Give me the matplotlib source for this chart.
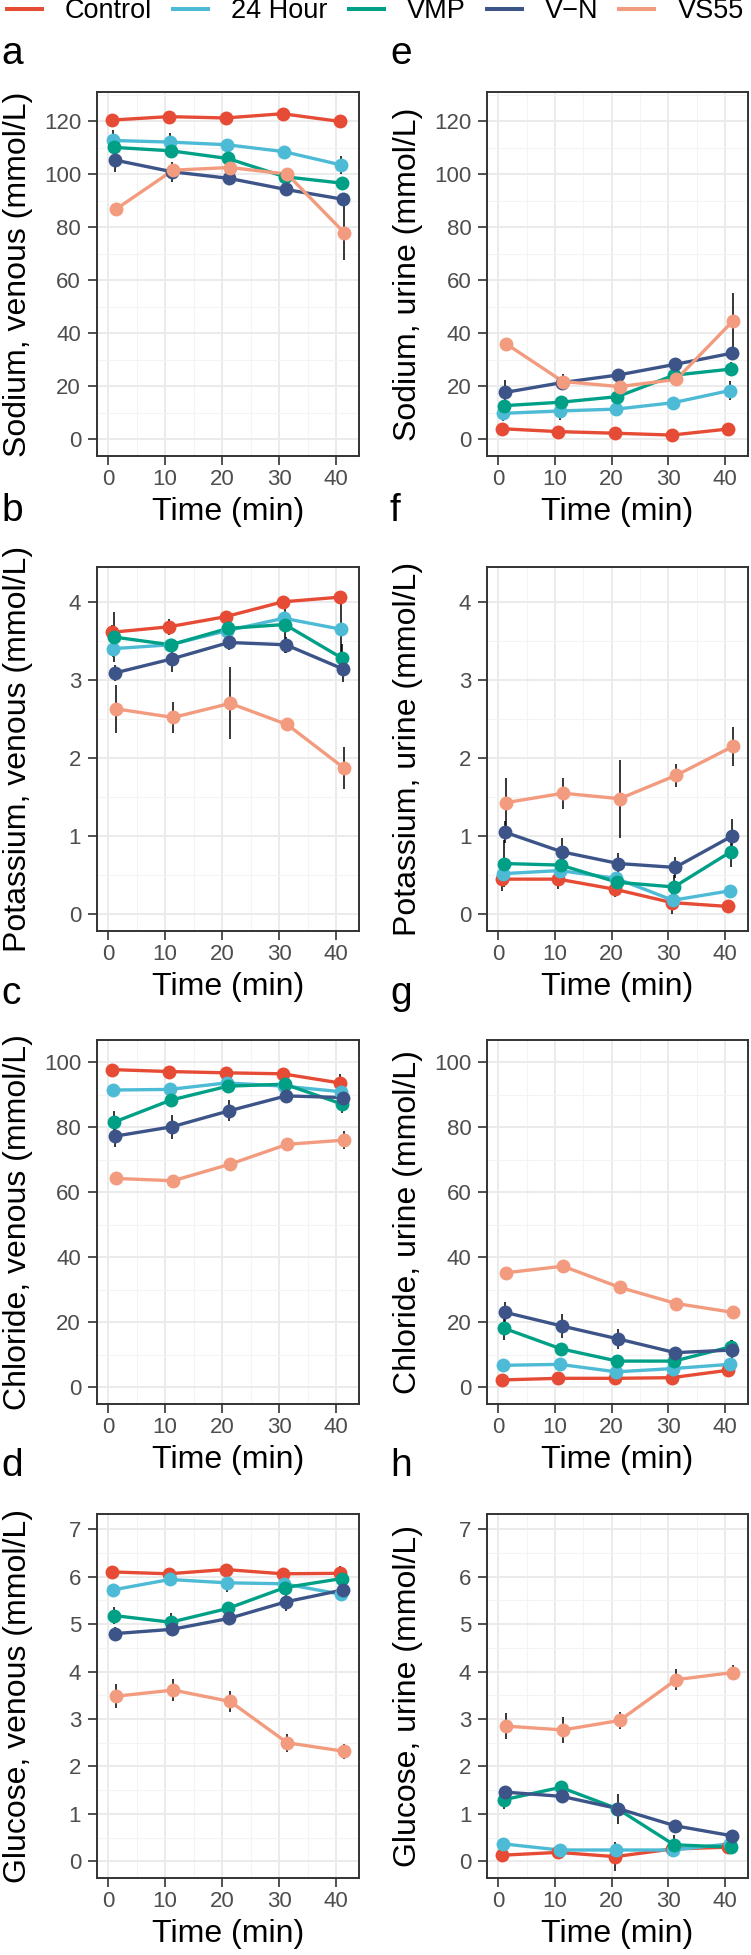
import numpy as np
import matplotlib
matplotlib.use('Agg')
import matplotlib.pyplot as plt
from matplotlib.lines import Line2D
from matplotlib.ticker import MultipleLocator

plt.rcParams['font.family'] = ['Liberation Sans', 'DejaVu Sans']

# ── data (mean and SE per group, rows = groups, cols = time points) ──────────
groups = ['Control', '24 Hour', 'VMP', 'V\u2212N', 'VS55']
colors = ['#E64B35', '#4DBBD5', '#00A087', '#3C5488', '#F39B7F']
time_min = [1, 11, 21, 31, 41]

sodium_venous = [[120.5, 121.8, 121.3, 122.9, 120.0],
                 [112.8, 112.2, 111.2, 108.6, 103.6],
                 [110.2, 108.9, 106.0, 99.1, 96.7],
                 [105.4, 101.0, 98.5, 94.3, 90.6],
                 [86.9, 101.6, 102.6, 100.1, 78.0]]
sodium_venous_se = [[1.0, 1.5, 1.0, 1.0, 1.0],
                    [4.0, 3.3, 1.5, 1.5, 3.5],
                    [1.5, 2.5, 1.5, 1.5, 2.0],
                    [4.5, 3.8, 1.5, 1.5, 2.0],
                    [1.5, 2.0, 1.5, 1.5, 10.3]]

sodium_urine = [[4.0, 2.9, 2.3, 1.6, 3.9],
                [9.8, 10.7, 11.4, 13.8, 18.4],
                [12.7, 14.0, 16.1, 24.2, 26.5],
                [17.7, 21.4, 24.3, 28.3, 32.5],
                [36.0, 21.8, 19.9, 22.6, 44.7]]
sodium_urine_se = [[0.8, 0.5, 0.5, 0.5, 0.8],
                   [3.0, 3.4, 1.0, 1.0, 3.6],
                   [1.5, 2.0, 1.5, 2.0, 2.5],
                   [4.7, 2.0, 1.5, 1.5, 2.5],
                   [1.0, 3.0, 1.0, 1.5, 10.4]]

potassium_venous = [[3.61, 3.68, 3.81, 4.00, 4.06],
                    [3.40, 3.45, 3.63, 3.79, 3.65],
                    [3.55, 3.45, 3.66, 3.71, 3.28],
                    [3.09, 3.27, 3.48, 3.45, 3.14],
                    [2.63, 2.52, 2.70, 2.43, 1.87]]
potassium_venous_se = [[0.10, 0.10, 0.05, 0.08, 0.05],
                       [0.10, 0.05, 0.05, 0.05, 0.40],
                       [0.32, 0.05, 0.05, 0.37, 0.18],
                       [0.10, 0.17, 0.10, 0.10, 0.17],
                       [0.31, 0.20, 0.46, 0.05, 0.27]]

potassium_urine = [[0.45, 0.45, 0.32, 0.15, 0.10],
                   [0.52, 0.56, 0.46, 0.18, 0.30],
                   [0.65, 0.63, 0.41, 0.35, 0.80],
                   [1.05, 0.80, 0.65, 0.60, 1.00],
                   [1.43, 1.55, 1.48, 1.78, 2.15]]
potassium_urine_se = [[0.15, 0.12, 0.10, 0.14, 0.03],
                      [0.10, 0.05, 0.05, 0.05, 0.05],
                      [0.30, 0.10, 0.10, 0.15, 0.20],
                      [0.14, 0.18, 0.14, 0.13, 0.22],
                      [0.32, 0.20, 0.50, 0.15, 0.25]]

chloride_venous = [[97.7, 97.1, 96.7, 96.4, 93.6],
                   [91.4, 91.6, 93.6, 92.6, 90.9],
                   [81.5, 88.3, 92.6, 93.2, 87.1],
                   [77.2, 80.1, 85.0, 89.6, 89.1],
                   [64.2, 63.5, 68.6, 74.7, 76.0]]
chloride_venous_se = [[0.5, 0.5, 0.5, 0.5, 2.7],
                      [0.5, 0.5, 0.5, 0.5, 1.0],
                      [3.4, 1.0, 1.0, 1.0, 2.9],
                      [3.2, 3.7, 3.2, 1.5, 1.0],
                      [0.5, 0.5, 0.5, 0.5, 2.7]]

chloride_urine = [[2.2, 2.7, 2.7, 2.9, 5.2],
                  [6.7, 7.0, 4.7, 5.7, 7.0],
                  [18.1, 11.8, 8.0, 8.0, 12.4],
                  [23.0, 18.8, 14.8, 10.6, 11.4],
                  [35.2, 37.2, 30.7, 25.7, 23.0]]
chloride_urine_se = [[0.5, 0.5, 0.5, 0.5, 1.0],
                     [0.5, 0.5, 0.5, 0.5, 0.5],
                     [3.6, 1.0, 1.0, 1.0, 2.0],
                     [3.3, 3.8, 3.1, 1.5, 3.0],
                     [0.5, 0.5, 1.0, 1.8, 0.5]]

glucose_venous = [[6.10, 6.06, 6.15, 6.06, 6.07],
                  [5.72, 5.94, 5.87, 5.85, 5.63],
                  [5.18, 5.04, 5.33, 5.77, 5.96],
                  [4.80, 4.89, 5.12, 5.47, 5.72],
                  [3.48, 3.61, 3.37, 2.50, 2.32]]
glucose_venous_se = [[0.05, 0.05, 0.05, 0.05, 0.15],
                     [0.05, 0.05, 0.19, 0.05, 0.05],
                     [0.18, 0.20, 0.05, 0.05, 0.05],
                     [0.14, 0.10, 0.05, 0.19, 0.05],
                     [0.25, 0.23, 0.22, 0.19, 0.16]]

glucose_urine = [[0.13, 0.19, 0.10, 0.26, 0.30],
                 [0.37, 0.24, 0.24, 0.24, 0.37],
                 [1.30, 1.56, 1.11, 0.35, 0.30],
                 [1.46, 1.37, 1.11, 0.75, 0.54],
                 [2.85, 2.77, 2.97, 3.83, 3.98]]
glucose_urine_se = [[0.05, 0.05, 0.30, 0.05, 0.05],
                    [0.05, 0.05, 0.05, 0.05, 0.05],
                    [0.20, 0.10, 0.10, 0.20, 0.05],
                    [0.10, 0.10, 0.32, 0.05, 0.05],
                    [0.28, 0.27, 0.18, 0.22, 0.16]]

# ── layout (pixels) ───────────────────────────────────────────────────────────
W, H = 751, 1955
fig = plt.figure(figsize=(W / 100, H / 100), dpi=100)

col_left = [97, 487.3]
col_width = [262, 260.4]
row_top = [92, 566.7, 1040, 1514]
ax_h = 364
letter_base = [64, 521, 1004, 1476]
letter_x = [1, 390]

panels = [
    ('a', 'Sodium, venous (mmol/L)', sodium_venous, sodium_venous_se, (-6.3, 131.1), 20, 0, 0),
    ('b', 'Potassium, venous (mmol/L)', potassium_venous, potassium_venous_se, (-0.21, 4.45), 1, 0, 1),
    ('c', 'Chloride, venous (mmol/L)', chloride_venous, chloride_venous_se, (-5.2, 106.8), 20, 0, 2),
    ('d', 'Glucose, venous (mmol/L)', glucose_venous, glucose_venous_se, (-0.35, 7.32), 1, 0, 3),
    ('e', 'Sodium, urine (mmol/L)', sodium_urine, sodium_urine_se, (-6.3, 131.1), 20, 1, 0),
    ('f', 'Potassium, urine (mmol/L)', potassium_urine, potassium_urine_se, (-0.21, 4.45), 1, 1, 1),
    ('g', 'Chloride, urine (mmol/L)', chloride_urine, chloride_urine_se, (-5.2, 106.8), 20, 1, 2),
    ('h', 'Glucose, urine (mmol/L)', glucose_urine, glucose_urine_se, (-0.35, 7.32), 1, 1, 3),
]

offsets = np.linspace(-0.4, 0.4, len(groups))

for letter, ylabel, mean, se, ylim, step, col, row in panels:
    rect = [col_left[col] / W, 1 - (row_top[row] + ax_h) / H, col_width[col] / W, ax_h / H]
    ax = fig.add_axes(rect)
    mean = np.array(mean)
    se = np.array(se)
    t = np.array(time_min, dtype=float)
    for i, g in enumerate(groups):
        x = t + offsets[i]
        ax.vlines(x, mean[i] - se[i], mean[i] + se[i], color='black', lw=1.1, zorder=2)
    for i, g in enumerate(groups):
        x = t + offsets[i]
        ax.plot(x, mean[i], color=colors[i], lw=2.4, zorder=3)
        ax.plot(x, mean[i], 'o', color=colors[i], ms=10, mec='none', zorder=4)

    ax.set_xlim(-1.95, 44.0)
    ax.set_ylim(*ylim)
    ax.xaxis.set_major_locator(MultipleLocator(10))
    ax.xaxis.set_minor_locator(MultipleLocator(5))
    ax.yaxis.set_major_locator(MultipleLocator(step))
    ax.yaxis.set_minor_locator(MultipleLocator(step / 2))
    ax.grid(which='major', color='#EBEBEB', lw=1.4, zorder=0)
    ax.grid(which='minor', color='#F4F4F4', lw=0.8, zorder=0)
    ax.set_axisbelow(True)
    ax.tick_params(which='major', length=6.5, width=1.2, color='#333333',
                   labelsize=16, labelcolor='#4D4D4D')
    ax.tick_params(axis='y', pad=5)
    ax.tick_params(axis='x', pad=3)
    ax.tick_params(which='minor', length=0)
    for sp in ax.spines.values():
        sp.set_color('#333333')
        sp.set_linewidth(1.4)

    ax.set_ylabel(ylabel, fontsize=23, color='black')
    ax.yaxis.set_label_coords(-0.246, 0.5)
    ax.set_xlabel('Time (min)', fontsize=23, color='black')
    ax.xaxis.set_label_coords(0.5, -0.113)

    fig.text(letter_x[col] / W, 1 - letter_base[row] / H, letter,
             fontsize=28, ha='left', va='baseline')

# ── legend ────────────────────────────────────────────────────────────────────
handles = [Line2D([], [], color=c, lw=2.9) for c in colors]
fig.legend(handles, groups, loc='center left', bbox_to_anchor=(7 / W, 1 - 11.5 / H),
           ncol=5, frameon=False, borderpad=0, borderaxespad=0, fontsize=19.5,
           handlelength=1.29, handletextpad=0.85, columnspacing=0.78)

fig.savefig('out.png', dpi=100)
